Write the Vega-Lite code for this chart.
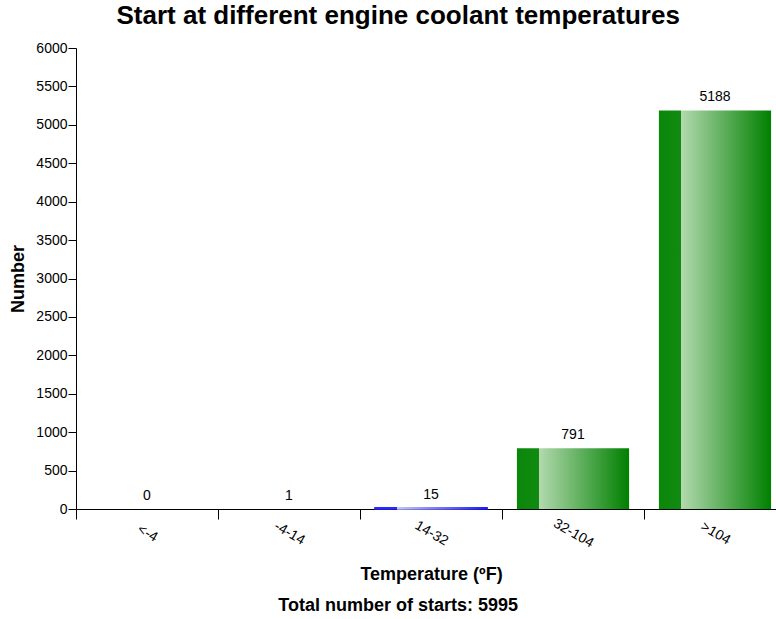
{
  "$schema": "https://vega.github.io/schema/vega-lite/v6.json",
  "padding": {"left": 9, "top": 3, "right": 0, "bottom": 4},
  "config": {
    "font": "Liberation Sans",
    "view": {"stroke": null},
    "axis": {"labelColor": "#000", "titleColor": "#000", "domainColor": "#000", "tickColor": "#000", "grid": false, "labelFont": "Liberation Sans", "titleFont": "Liberation Sans"}
  },
  "title": {"text": "Total number of starts: 5995", "orient": "bottom", "anchor": "middle", "frame": "bounds", "fontSize": 18, "fontWeight": "bold", "color": "#000", "offset": 13},
  "vconcat": [
    {
      "title": {"text": "Start at different engine coolant temperatures", "anchor": "middle", "frame": "bounds", "fontSize": 26, "fontWeight": "bold", "color": "#000", "offset": 12},
      "width": 710,
      "height": 461,
      "data": {"values": [
        {"temp": "<-4", "count": 0},
        {"temp": "-4-14", "count": 1},
        {"temp": "14-32", "count": 15},
        {"temp": "32-104", "count": 791},
        {"temp": ">104", "count": 5188}
      ]},
      "encoding": {
        "x": {"field": "temp", "type": "nominal", "sort": null,
          "scale": {"domain": ["<-4", "-4-14", "14-32", "32-104", ">104"], "paddingInner": 0, "paddingOuter": 0},
          "axis": {"title": "Temperature (ºF)", "titleFontSize": 18, "titleFontWeight": "bold", "titlePadding": 16,
            "labelAngle": 30, "labelAlign": "center", "labelBaseline": "middle", "labelPadding": 14, "labelFontSize": 14,
            "tickSize": 10, "tickBand": "extent"}},
        "y": {"field": "count", "type": "quantitative",
          "scale": {"domain": [0, 6000], "nice": false},
          "axis": {"title": "Number", "titleFontSize": 18, "titleFontWeight": "bold", "titlePadding": 8, "format": "d",
            "values": [0, 500, 1000, 1500, 2000, 2500, 3000, 3500, 4000, 4500, 5000, 5500, 6000],
            "labelFontSize": 14, "tickSize": 8, "labelPadding": 1}}
      },
      "layer": [
        {
          "transform": [{"filter": "datum.temp != '14-32'"}],
          "mark": {"type": "bar", "width": {"band": 0.79},
            "color": {"gradient": "linear", "x1": 0, "x2": 1, "y1": 0, "y2": 0,
              "stops": [
                {"offset": 0, "color": "#0a880a"},
                {"offset": 0.2, "color": "#118a11"},
                {"offset": 0.2, "color": "#b2d9ae"},
                {"offset": 1, "color": "#008000"}
              ]}}
        },
        {
          "transform": [{"filter": "datum.temp == '14-32'"}],
          "mark": {"type": "bar", "width": {"band": 0.79}, "strokeWidth": 1.5,
            "stroke": {"gradient": "linear", "x1": 0, "x2": 1, "y1": 0, "y2": 0,
              "stops": [
                {"offset": 0, "color": "#2a2aff"},
                {"offset": 0.2, "color": "#2a2aff"},
                {"offset": 0.2, "color": "#c4c4ff"},
                {"offset": 1, "color": "#1a1aff"}
              ]},
            "fill": {"gradient": "linear", "x1": 0, "x2": 1, "y1": 0, "y2": 0,
              "stops": [
                {"offset": 0, "color": "#2a2aff"},
                {"offset": 0.2, "color": "#2a2aff"},
                {"offset": 0.2, "color": "#c4c4ff"},
                {"offset": 1, "color": "#1a1aff"}
              ]}}
        },
        {
          "mark": {"type": "text", "baseline": "middle", "dy": -13, "fontSize": 14, "color": "#000"},
          "encoding": {"text": {"field": "count", "type": "quantitative"}}
        }
      ]
    }
  ]
}
